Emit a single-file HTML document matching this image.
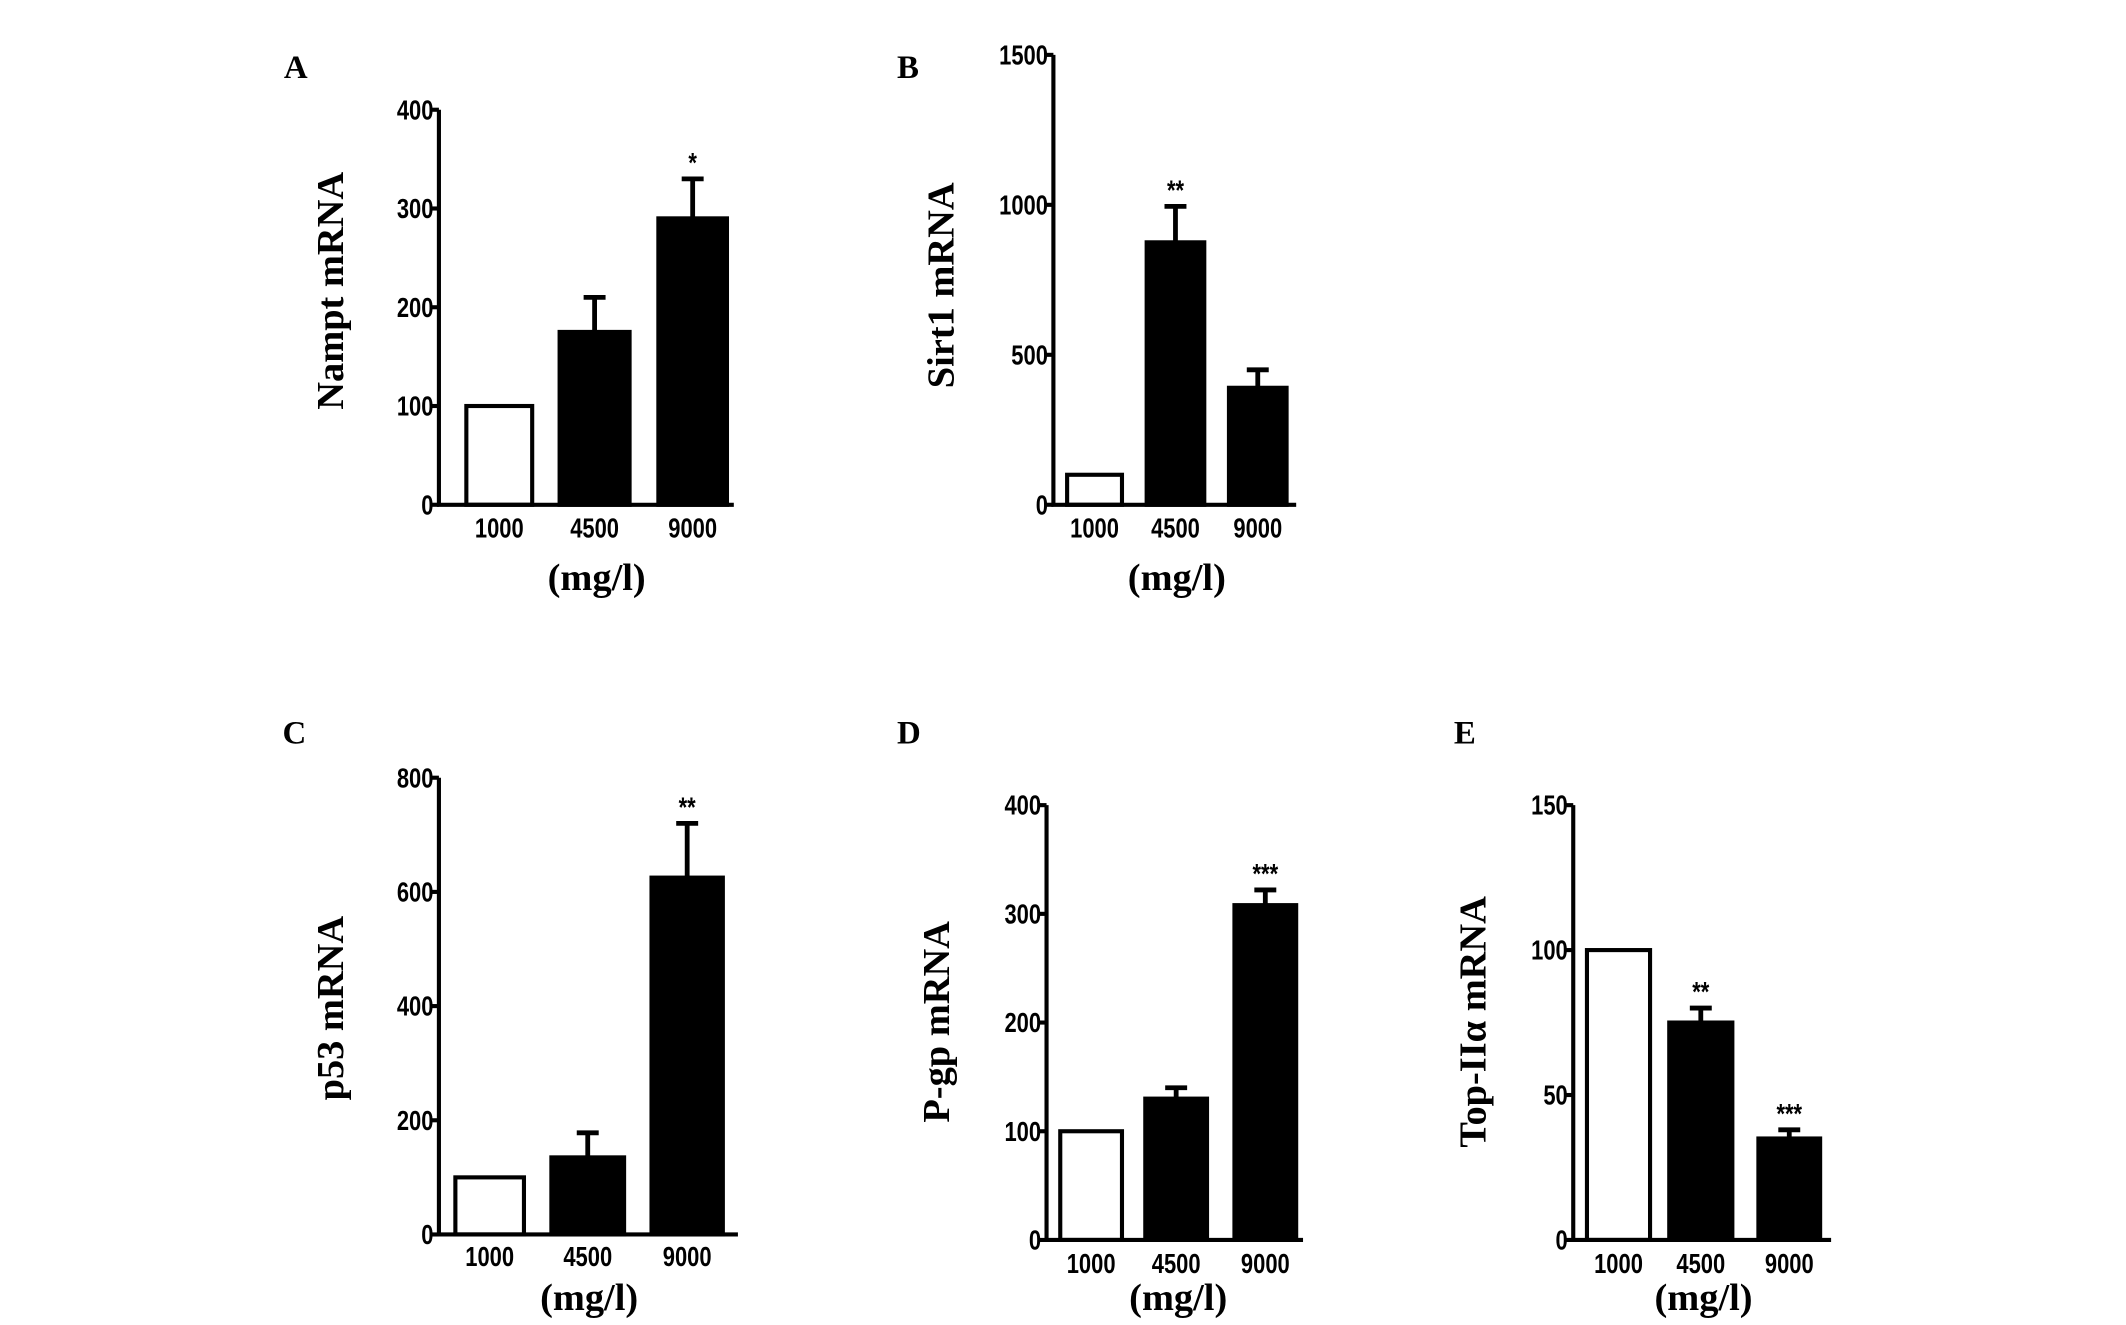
<!DOCTYPE html>
<html><head><meta charset="utf-8"><style>
html,body{margin:0;padding:0;background:#fff}
svg{display:block}
.tk{font-family:"Liberation Sans",sans-serif;font-weight:bold;font-size:20px}
.ti{font-family:"Liberation Serif",serif;font-weight:bold;font-size:28px}
.lt{font-family:"Liberation Serif",serif;font-weight:bold;font-size:24px}
</style></head><body>
<svg id="fig" width="2126" height="1325" viewBox="0 0 1550 966" xmlns="http://www.w3.org/2000/svg"></svg>
<script>
const categories = ["1000","4500","9000"];
const valuesA = [100,175,290]; const errA = [0,35,40]; const sigA = ["","","*"]; const ticksA = [0,100,200,300,400];
const valuesB = [100,875,390]; const errB = [0,120,60]; const sigB = ["","**",""]; const ticksB = [0,500,1000,1500];
const valuesC = [100,135,625]; const errC = [0,43,95]; const sigC = ["","","**"]; const ticksC = [0,200,400,600,800];
const valuesD = [100,130,308]; const errD = [0,10,14]; const sigD = ["","","***"]; const ticksD = [0,100,200,300,400];
const valuesE = [100,75,35]; const errE = [0,5,3]; const sigE = ["","**","***"]; const ticksE = [0,50,100,150];

const NS="http://www.w3.org/2000/svg";
const svg=document.getElementById('fig');
function mk(tag,attrs,parent,text){const e=document.createElementNS(NS,tag);for(const k in attrs)e.setAttribute(k,attrs[k]);if(text!==undefined)e.textContent=text;(parent||svg).appendChild(e);return e;}

const panels=[
 {id:"a",letter:"A",lx:207,ly:57,ax:320,y0:368,yT:80,max:400,axEnd:535,bars:[[340,388],[408,459],[480,530]],vals:valuesA,err:errA,sig:sigA,ticks:ticksA,title:"Nampt mRNA",tx:250,ty:212,xl:384,ml:430},
 {id:"b",letter:"B",lx:654,ly:57,ax:768,y0:368,yT:40,max:1500,axEnd:945,bars:[[778,818],[836,878],[896,938]],vals:valuesB,err:errB,sig:sigB,ticks:ticksB,title:"Sirt1 mRNA",tx:695,ty:208,xl:384,ml:430},
 {id:"c",letter:"C",lx:206,ly:542,ax:320,y0:900,yT:567,max:800,axEnd:538,bars:[[332,382],[402,455],[475,527]],vals:valuesC,err:errC,sig:sigC,ticks:ticksC,title:"p53 mRNA",tx:250,ty:735,xl:915,ml:955},
 {id:"d",letter:"D",lx:654,ly:542,ax:763,y0:904,yT:587,max:400,axEnd:950,bars:[[773,818],[835,880],[900,945]],vals:valuesD,err:errD,sig:sigD,ticks:ticksD,title:"P-gp mRNA",tx:692,ty:745,xl:920,ml:955},
 {id:"e",letter:"E",lx:1060,ly:542,ax:1147,y0:904,yT:587,max:150,axEnd:1335,bars:[[1157,1203],[1217,1263],[1282,1327]],vals:valuesE,err:errE,sig:sigE,ticks:ticksE,title:"Top-IIα mRNA",tx:1083,ty:745,xl:920,ml:955}
];

function condensed(parent,x,y,anchor,txt,size){
  const g=mk('g',{transform:`translate(${x} ${y}) scale(0.8 1)`},parent);
  return mk('text',{x:0,y:0,class:'tk','text-anchor':anchor,'font-size':size||20},g,txt);
}

panels.forEach(p=>{
  const g=mk('g',{});
  
  
  const y=v=>p.y0-(v/p.max)*(p.y0-p.yT);
  const lt=mk('text',{x:p.lx,y:p.ly,class:'lt'},g,p.letter);
  
  
  p.vals.forEach((v,i)=>{
    const [x1,x2]=p.bars[i];
    const r=mk('rect',{x:x1,y:y(v),width:x2-x1,height:p.y0-y(v),fill:i===0?'#fff':'#000',stroke:'#000','stroke-width':3},g);
    
    
    if(p.err[i]>0){
      const cx=(x1+x2)/2, ye=y(v+p.err[i]);
      const e=mk('path',{d:`M${cx} ${y(v)}V${ye}M${cx-8} ${ye}H${cx+8}`,stroke:'#000','stroke-width':3.5,fill:'none'},g);
      
      
    }
    if(p.sig[i]){
      const s=condensed(g,(x1+x2)/2,y(v+p.err[i])-5,'middle',p.sig[i],17);
      
      
    }
    const xt=condensed(g,(x1+x2)/2,p.xl+8,'middle',categories[i]);
    
    
  });
  const ax=mk('path',{d:`M${p.ax} ${p.yT}V${p.y0}H${p.axEnd}`,stroke:'#000','stroke-width':3,fill:'none'},g);
  
  
  p.ticks.forEach(t=>{
    mk('path',{d:`M${p.ax-5} ${y(t)}H${p.ax}`,stroke:'#000','stroke-width':3},g);
    const tl=condensed(g,p.ax-4,y(t)+7,'end',String(t));
    
    
  });
  const ti=mk('text',{x:p.tx,y:p.ty,class:'ti','text-anchor':'middle',transform:`rotate(-90 ${p.tx} ${p.ty})`},g,p.title);
  
  
  const ml=mk('text',{x:(p.bars[0][0]+p.bars[2][1])/2,y:p.ml,class:'ti','text-anchor':'middle'},g,'(mg/l)');
  
  
});
</script>
</body></html>
